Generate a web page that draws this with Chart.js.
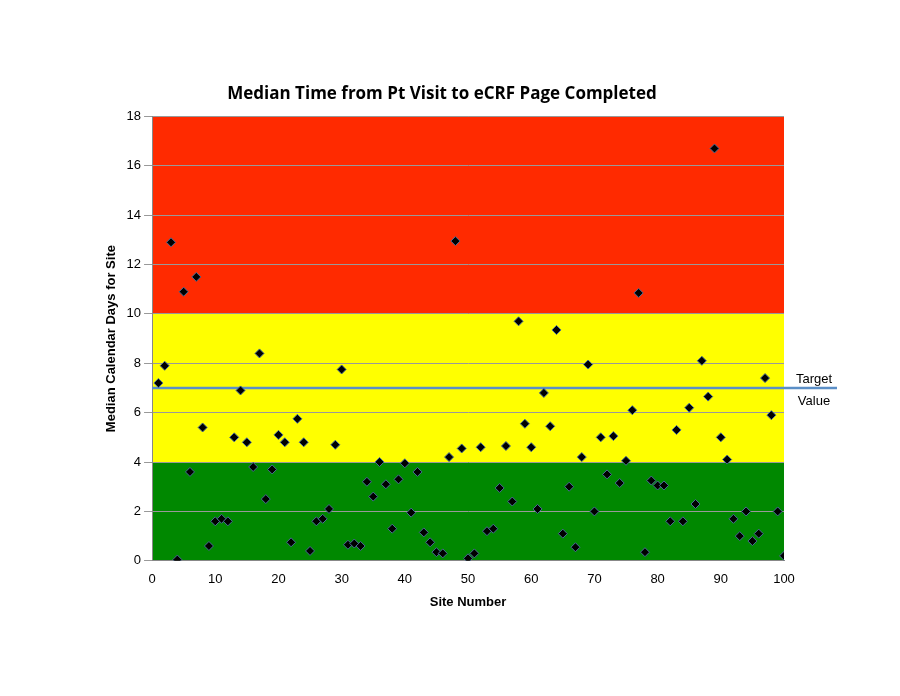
<!DOCTYPE html>
<html>
<head>
<meta charset="utf-8">
<script src="https://cdn.jsdelivr.net/npm/chart.js@4/dist/chart.umd.min.js"></script>
<style>
  body { margin: 0; background: #fff; }
  #wrap { width: 900px; height: 696px; }
</style>
</head>
<body>
<div id="wrap"><canvas id="chart"></canvas></div>
<script>
// median days per site, site numbers 1..100
const siteNumbers = [];
for (let i = 1; i <= 100; i++) siteNumbers.push(i);
const medianDays = [
  7.2, 7.9, 12.9, 0.05, 10.9, 3.6, 11.5, 5.4, 0.6, 1.6,
  1.7, 1.6, 5.0, 6.9, 4.8, 3.8, 8.4, 2.5, 3.7, 5.1,
  4.8, 0.75, 5.75, 4.8, 0.4, 1.6, 1.7, 2.1, 4.7, 7.75,
  0.65, 0.7, 0.6, 3.2, 2.6, 4.0, 3.1, 1.3, 3.3, 3.95,
  1.95, 3.6, 1.15, 0.75, 0.35, 0.3, 4.2, 12.95, 4.55, 0.1,
  0.3, 4.6, 1.2, 1.3, 2.95, 4.65, 2.4, 9.7, 5.55, 4.6,
  2.1, 6.8, 5.45, 9.35, 1.1, 3.0, 0.55, 4.2, 7.95, 2.0,
  5.0, 3.5, 5.05, 3.15, 4.05, 6.1, 10.85, 0.35, 3.25, 3.05,
  3.05, 1.6, 5.3, 1.6, 6.2, 2.3, 8.1, 6.65, 16.7, 5.0,
  4.1, 1.7, 1.0, 2.0, 0.8, 1.1, 7.4, 5.9, 2.0, 0.2
];
const targetValue = 7;
// colour bands: [from, to, colour]
const bands = [
  [0, 4, '#008800'],
  [4, 10, '#ffff00'],
  [10, 18, '#ff2a00']
];

let bandPlugin = {
  id: 'bands',
  beforeDraw: function (chart) {
    const ctx = chart.ctx, a = chart.chartArea, y = chart.scales.y;
    ctx.save();
    for (let b of bands) {
      ctx.fillStyle = b[2];
      ctx.fillRect(a.left, y.getPixelForValue(b[1]), a.right - a.left, y.getPixelForValue(b[0]) - y.getPixelForValue(b[1]));
    }
    ctx.restore();
  },
  beforeDatasetsDraw: function (chart) {
    const ctx = chart.ctx, a = chart.chartArea, y = chart.scales.y;
    const py = y.getPixelForValue(targetValue);
    ctx.save();
    ctx.strokeStyle = '#5b8fc7';
    ctx.lineWidth = 2.5;
    ctx.beginPath();
    ctx.moveTo(a.left, py);
    ctx.lineTo(a.right + 53, py);
    ctx.stroke();
    ctx.fillStyle = '#000';
    ctx.font = '13px "Liberation Sans", Arial';
    ctx.textAlign = 'center';
    ctx.fillText('Target', a.right + 30, py - 5);
    ctx.fillText('Value', a.right + 30, py + 17);
    ctx.restore();
  }
};

new Chart(document.getElementById('chart'), {
  type: 'scatter',
  data: {
    datasets: [{
      data: siteNumbers.map((s, i) => ({ x: s, y: medianDays[i] })),
      pointStyle: 'rectRot',
      pointRadius: 4.5,
      backgroundColor: '#000',
      borderColor: '#4a6d96',
      borderWidth: 1
    }]
  },
  options: {
    responsive: true,
    maintainAspectRatio: false,
    animation: false,
    layout: { padding: { left: 100, right: 116, top: 84, bottom: 82 } },
    plugins: {
      legend: { display: false },
      tooltip: { enabled: false },
      title: {
        display: true,
        text: 'Median Time from Pt Visit to eCRF Page Completed',
        color: '#000',
        font: { size: 17, weight: 'bold', family: '"Open Sans", Arial' },
        padding: { bottom: 12 }
      }
    },
    scales: {
      x: {
        min: 0, max: 100,
        ticks: { stepSize: 10, color: '#000', font: { size: 13 } },
        grid: { display: false, drawTicks: true },
        border: { color: '#888' },
        title: { display: true, text: 'Site Number', color: '#000', font: { size: 13, weight: 'bold' } }
      },
      y: {
        min: 0, max: 18,
        ticks: { stepSize: 2, color: '#000', font: { size: 13 } },
        grid: { color: '#999', drawTicks: true },
        border: { color: '#888' },
        title: { display: true, text: 'Median Calendar Days for Site', color: '#000', font: { size: 13, weight: 'bold' } }
      }
    }
  },
  plugins: [bandPlugin]
});
</script>
</body>
</html>
